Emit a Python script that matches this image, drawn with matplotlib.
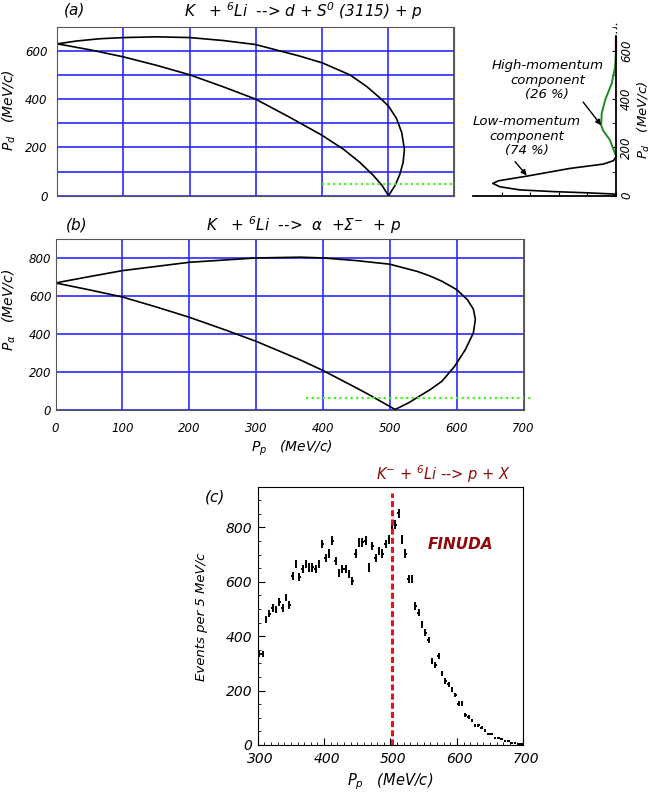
import matplotlib
matplotlib.use("Agg")
import matplotlib.pyplot as plt
from matplotlib.ticker import MultipleLocator
from matplotlib.transforms import ScaledTranslation
import numpy as np

plt.rcParams["font.family"] = ["DejaVu Sans"]
plt.rcParams["font.style"] = "italic"
plt.rcParams["mathtext.fontset"] = "dejavusans"

W, H = 654, 792

# panel (a): K- + 6Li -> d + S0(3115) + p, kinematic boundary (Pp, Pd)
a_upper_pp = [0, 30, 64, 100, 150, 200, 250, 300, 367, 401, 443, 468, 488, 501,
              513, 521, 525, 523, 518, 511, 501]
a_upper_pd = [629, 641, 650, 655, 658, 655, 643, 626, 578, 550, 500, 452, 405, 371,
              320, 261, 192, 137, 88, 43, 0]
a_lower_pp = [0, 50, 100, 150, 200, 250, 300, 350, 400, 433, 458, 478, 491, 501]
a_lower_pd = [629, 604, 575, 540, 501, 452, 400, 327, 251, 192, 137, 84, 43, 0]
a_green_pp = [401, 600]
a_green_pd = [47, 47]

# deuteron momentum distribution in 6Li (side plot)
low_int = [0, 0.09, 1.02, 2.19, 3.36, 4.06, 4.31, 4.1, 3.12, 1.61, 0.44, 0.09, 0]
low_pd = [5, 7, 12, 17, 24, 37, 51, 62, 81, 113, 131, 145, 161]
high_int = [0, 0.21, 0.45, 0.52, 0.5, 0.38, 0.15, 0.03, 0]
high_pd = [165, 230, 270, 292, 341, 396, 465, 534, 600]
red_pd = [600, 655]

# panel (b): K- + 6Li -> alpha + Sigma- + p
b_upper_pp = [0, 50, 100, 200, 300, 366, 400, 450, 500, 541, 560, 578, 600, 616,
              625, 628, 625, 613, 597, 578, 560, 528, 508]
b_upper_pa = [668, 701, 733, 777, 800, 804, 800, 786, 767, 729, 705, 677, 633, 580,
              530, 475, 404, 316, 228, 149, 104, 35, 0]
b_lower_pp = [0, 50, 100, 150, 200, 250, 300, 366, 400, 450, 466, 485, 508]
b_lower_pa = [668, 632, 594, 542, 487, 425, 360, 262, 206, 114, 84, 46, 0]
b_green_pp = [375, 715]
b_green_pa = [62, 62]

# panel (c): FINUDA proton spectrum, 5 MeV/c bins
pp_bins = np.arange(302.5, 700, 5.0)
counts = [334, 336, 462, 483, 503, 499, 527, 503, 542, 515,
          622, 667, 618, 647, 667, 653, 653, 647, 665, 739,
          689, 705, 751, 677, 634, 647, 647, 628, 604, 704,
          745, 745, 751, 653, 732, 689, 714, 704, 739, 757,
          810, 810, 852, 757, 704, 610, 610, 512, 487, 444,
          413, 385, 309, 294, 328, 262, 236, 223, 205, 184,
          152, 152, 110, 103, 91, 72, 72, 64, 52, 39,
          39, 25, 27, 21, 15, 15, 8, 8, 5, 5]
errors = [11, 11, 13, 13, 14, 13, 14, 14, 14, 14,
          15, 15, 15, 15, 15, 15, 15, 15, 15, 16,
          15, 16, 16, 15, 15, 15, 15, 15, 15, 16,
          16, 16, 16, 15, 16, 15, 16, 16, 16, 16,
          17, 17, 17, 16, 16, 15, 15, 14, 13, 13,
          13, 11, 11, 10, 11, 10, 10, 10, 10, 8,
          8, 8, 7, 7, 6, 6, 6, 6, 6, 4,
          4, 4, 4, 4, 3, 3, 3, 3, 3, 3]
threshold_pp = 503

grid_color = "#2a2aff"
green = "#44ee22"
dark_red = "#8e0a0a"


def box(left, top, right, bottom):
    return [left / W, 1 - bottom / H, (right - left) / W, (bottom - top) / H]


def ftext(x, y, s, **kw):
    fig.text(x / W, 1 - y / H, s, **kw)


fig = plt.figure(figsize=(W / 100, H / 100), dpi=100)

# ---- panel (a)
ax_a = fig.add_axes(box(57.3, 26.7, 454, 195.7))
ax_a.plot(a_upper_pp, a_upper_pd, color="black", lw=1.2)
ax_a.plot(a_lower_pp, a_lower_pd, color="black", lw=1.2)
ax_a.plot(a_green_pp, a_green_pd, color=green, lw=1.6, ls=(0, (1, 1.5)))
ax_a.set_xlim(0, 600)
ax_a.set_ylim(0, 700)
ax_a.set_xticks(np.arange(0, 601, 100))
ax_a.set_xticklabels([])
ax_a.set_yticks([0, 200, 400, 600])
ax_a.yaxis.set_minor_locator(MultipleLocator(100))
ax_a.grid(True, which="both", color=grid_color, lw=1.2)
ax_a.tick_params(axis="both", which="both", direction="in", length=0, labelsize=8.5, pad=7)
for s in ax_a.spines.values():
    s.set_color("#555555")

ftext(75, 10, "(a)", fontsize=11, ha="center", va="center")
ftext(303, 11, "K   + $^{6}$Li  --> d + S$^{0}$ (3115) + p", fontsize=11, ha="center", va="center")
ftext(9, 110, "$P_d$   (MeV/c)", fontsize=10, rotation=90, ha="center", va="center")

# ---- side plot: deuteron momentum distribution
ax_s = fig.add_axes(box(473, 26.7, 616, 195.7))
ax_s.plot(low_int, low_pd, color="black", lw=1.2, clip_on=False)
ax_s.plot(high_int, high_pd, color="#1f8a1f", lw=1.4, clip_on=False)
ax_s.plot([0, 0], red_pd, color="#b01010", lw=1.6, clip_on=False)
ax_s.plot([0, 0], [672, 720], color="black", lw=1.0, ls=(0, (1, 2)), clip_on=False)
ax_s.set_xlim(5, 0)
ax_s.set_ylim(0, 700)
ax_s.spines["top"].set_visible(False)
ax_s.spines["left"].set_visible(False)
ax_s.spines["right"].set_bounds(0, 660)
ax_s.spines["right"].set_linewidth(1.3)
ax_s.spines["bottom"].set_linewidth(1.3)
ax_s.yaxis.tick_right()
ax_s.set_xticks([0, 1, 2, 3, 4])
ax_s.set_xticklabels([])
ax_s.set_yticks([0, 200, 400, 600])
ax_s.yaxis.set_minor_locator(MultipleLocator(100))
ax_s.tick_params(axis="x", direction="in", length=3)
ax_s.tick_params(axis="y", which="both", direction="in", length=3, labelsize=8.5, pad=3)
for lab in ax_s.get_yticklabels():
    lab.set_rotation(90)
    lab.set_va("center")
ax_s.text(2.40, 479, "High-momentum\ncomponent\n(26 %)", ha="center", va="center",
          fontsize=9.5, linespacing=1.15)
ax_s.text(3.12, 246, "Low-momentum\ncomponent\n(74 %)", ha="center", va="center",
          fontsize=9.5, linespacing=1.15)
arrow = dict(arrowstyle="-|>", color="black", lw=1, shrinkA=0, shrinkB=0, mutation_scale=8)
ax_s.annotate("", xy=(0.52, 292), xytext=(1.15, 388), arrowprops=arrow)
ax_s.annotate("", xy=(3.12, 84), xytext=(3.53, 141), arrowprops=arrow)
ftext(644, 120, "$P_d$   (MeV/c)", fontsize=9.5, rotation=90, ha="center", va="center")

# ---- panel (b)
ax_b = fig.add_axes(box(55.5, 239, 523.5, 409.5))
ax_b.plot(b_upper_pp, b_upper_pa, color="black", lw=1.2)
ax_b.plot(b_lower_pp, b_lower_pa, color="black", lw=1.2)
ax_b.plot(b_green_pp, b_green_pa, color=green, lw=1.6, ls=(0, (1, 1.5)), clip_on=False)
ax_b.set_xlim(0, 700)
ax_b.set_ylim(0, 900)
ax_b.set_xticks(np.arange(0, 701, 100))
ax_b.set_yticks(np.arange(0, 801, 200))
ax_b.grid(True, color=grid_color, lw=1.2)
ax_b.tick_params(axis="both", direction="in", length=0, labelsize=8.5)
ax_b.tick_params(axis="x", pad=9)
ax_b.tick_params(axis="y", pad=3)
for s in ax_b.spines.values():
    s.set_color("#555555")

ftext(77, 225, "(b)", fontsize=11, ha="center", va="center")
ftext(304, 225, "K   + $^{6}$Li  -->  α  +Σ$^{-}$  + p", fontsize=11, ha="center", va="center")
ftext(9, 310, "$P_\\alpha$   (MeV/c)", fontsize=10, rotation=90, ha="center", va="center")
ftext(292, 448, "$P_p$   (MeV/c)", fontsize=10, ha="center", va="center")

# ---- panel (c)
ax_c = fig.add_axes(box(257.7, 486.7, 523.3, 745))
ax_c.errorbar(pp_bins, counts, yerr=errors, xerr=2, fmt="none", ecolor="black",
              elinewidth=1.4, capsize=0)
ax_c.plot([threshold_pp, threshold_pp], [0, 925], color="#ee1111", lw=2.2, ls=(0, (2, 1)))
ax_c.set_xlim(300, 700)
ax_c.set_ylim(0, 950)
ax_c.set_xticks(np.arange(300, 701, 100))
ax_c.set_yticks(np.arange(0, 801, 200))
ax_c.xaxis.set_minor_locator(MultipleLocator(10))
ax_c.yaxis.set_minor_locator(MultipleLocator(50))
ax_c.tick_params(axis="both", which="major", direction="in", length=5, labelsize=10)
ax_c.tick_params(axis="both", which="minor", direction="in", length=2.5)
ax_c.tick_params(axis="x", pad=5)
ax_c.tick_params(axis="y", pad=4)
shift = ScaledTranslation(3 / 100, 0, fig.dpi_scale_trans)
for lab in ax_c.get_xticklabels():
    lab.set_transform(lab.get_transform() + shift)
ax_c.text(606, 737, "FINUDA", color=dark_red, fontsize=11, fontweight="bold",
          ha="center", va="center")

ftext(215, 497, "(c)", fontsize=11, ha="center", va="center")
ftext(443, 474, "K$^{-}$ + $^{6}$Li --> p + X", color=dark_red, fontsize=10.5,
      ha="center", va="center")
ftext(202, 617, "Events per 5 MeV/c", fontsize=9.5, rotation=90, ha="center", va="center")
ftext(390, 782, "$P_p$   (MeV/c)", fontsize=10.5, ha="center", va="center")

fig.savefig("out.png", dpi=100)
